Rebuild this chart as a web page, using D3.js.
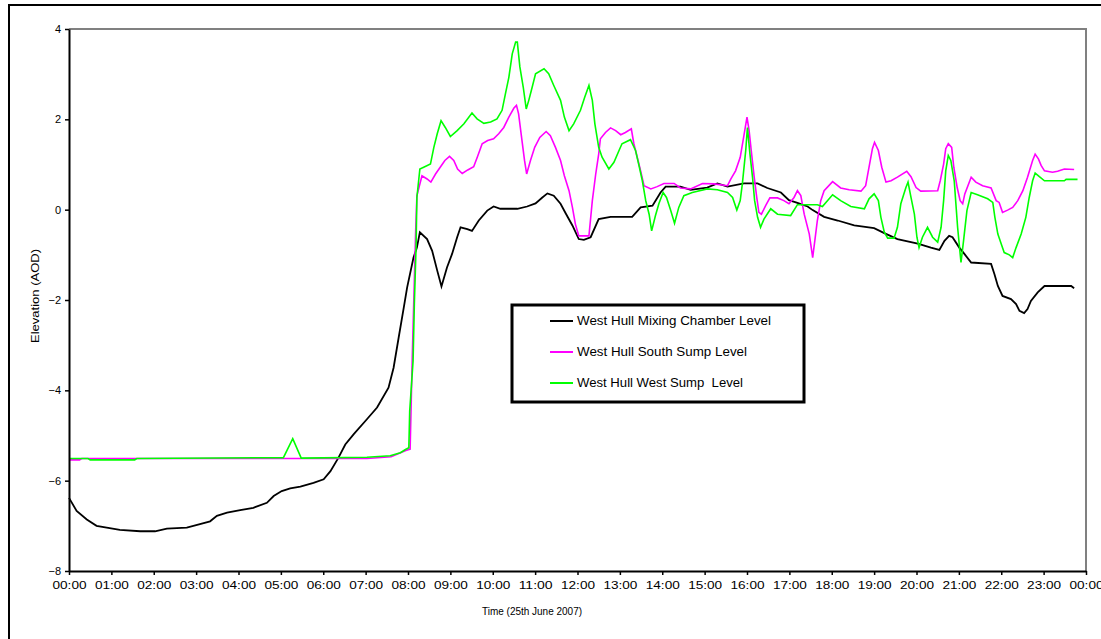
<!DOCTYPE html>
<html>
<head>
<meta charset="utf-8">
<script src="https://cdn.jsdelivr.net/npm/d3@7"></script>
<style>
  body { margin: 0; background: #fff; }
  svg { display: block; font-family: "Liberation Sans", Arial, sans-serif; }
</style>
</head>
<body>
<div id="chart"></div>
<script>
// series names, as in the legend
const seriesNames = ["West Hull Mixing Chamber Level", "West Hull South Sump Level", "West Hull West Sump  Level"];
const seriesColors = ["#000000", "#ff00ff", "#00ff00"];

const yTicks = [-8, -6, -4, -2, 0, 2, 4];
const xTicks = d3.range(0, 25);

// [hour, level]
const mixingChamber = [
  [0.00,-6.38],[0.18,-6.67],[0.42,-6.86],[0.65,-7.00],[0.89,-7.04],[1.20,-7.09],[1.68,-7.12],[2.03,-7.12],
  [2.31,-7.06],[2.78,-7.04],[3.09,-6.96],[3.33,-6.90],[3.49,-6.78],[3.73,-6.71],[4.04,-6.65],[4.35,-6.60],
  [4.67,-6.49],[4.83,-6.34],[5.02,-6.23],[5.22,-6.17],[5.46,-6.13],[5.77,-6.05],[6.01,-5.97],[6.17,-5.79],
  [6.36,-5.49],[6.52,-5.20],[6.72,-4.97],[7.03,-4.64],[7.27,-4.38],[7.54,-3.94],[7.66,-3.50],[7.78,-2.83],
  [7.90,-2.17],[7.98,-1.72],[8.13,-1.06],[8.21,-0.84],[8.28,-0.50],[8.45,-0.65],[8.57,-0.91],[8.69,-1.35],
  [8.79,-1.70],[8.92,-1.28],[9.04,-0.98],[9.16,-0.61],[9.24,-0.39],[9.40,-0.43],[9.51,-0.47],[9.67,-0.24],
  [9.87,-0.02],[10.02,0.07],[10.18,0.02],[10.58,0.02],[10.81,0.07],[11.01,0.14],[11.17,0.27],[11.29,0.36],
  [11.44,0.31],[11.60,0.13],[11.72,-0.08],[11.88,-0.35],[12.03,-0.65],[12.15,-0.67],[12.31,-0.61],[12.50,-0.21],
  [12.78,-0.16],[13.29,-0.16],[13.49,0.05],[13.77,0.09],[13.96,0.38],[14.08,0.51],[14.43,0.51],[14.67,0.44],
  [15.06,0.49],[15.30,0.58],[15.54,0.51],[15.93,0.58],[16.25,0.58],[16.48,0.48],[16.80,0.38],[16.99,0.21],
  [17.19,0.15],[17.43,0.07],[17.55,-0.01],[17.82,-0.16],[18.14,-0.24],[18.53,-0.35],[19.00,-0.41],[19.24,-0.52],
  [19.55,-0.65],[20.03,-0.75],[20.34,-0.84],[20.54,-0.89],[20.66,-0.69],[20.77,-0.58],[20.85,-0.61],[21.01,-0.84],
  [21.13,-0.98],[21.29,-1.17],[21.76,-1.20],[21.84,-1.43],[21.92,-1.69],[22.03,-1.91],[22.23,-1.98],[22.35,-2.09],
  [22.43,-2.24],[22.54,-2.29],[22.62,-2.20],[22.70,-2.02],[22.86,-1.83],[23.02,-1.69],[23.65,-1.69],[23.72,-1.74]
];

const southSump = [
  [0.00,-5.54],[0.25,-5.54],[0.30,-5.51],[7.03,-5.51],[7.60,-5.47],[7.95,-5.33],[8.05,-5.30],[8.10,-3.30],
  [8.18,-0.50],[8.21,0.31],[8.33,0.75],[8.45,0.68],[8.54,0.61],[8.65,0.79],[8.76,0.94],[8.87,1.09],[8.98,1.18],
  [9.08,1.09],[9.17,0.90],[9.28,0.80],[9.41,0.88],[9.55,0.95],[9.65,1.20],[9.75,1.46],[9.88,1.53],[10.02,1.57],
  [10.14,1.68],[10.26,1.82],[10.38,2.05],[10.50,2.25],[10.56,2.31],[10.61,2.12],[10.69,1.53],[10.75,1.09],
  [10.80,0.79],[10.89,1.09],[10.99,1.38],[11.11,1.60],[11.26,1.73],[11.36,1.64],[11.48,1.38],[11.60,1.09],
  [11.69,0.75],[11.80,0.42],[11.88,0.05],[11.95,-0.32],[12.03,-0.58],[12.27,-0.58],[12.35,0.20],[12.43,0.79],
  [12.50,1.23],[12.54,1.57],[12.66,1.71],[12.78,1.81],[12.90,1.75],[13.02,1.66],[13.13,1.71],[13.27,1.79],
  [13.33,1.46],[13.41,1.16],[13.49,0.86],[13.57,0.53],[13.73,0.46],[13.88,0.51],[14.04,0.58],[14.28,0.58],
  [14.43,0.48],[14.67,0.46],[14.95,0.58],[15.22,0.57],[15.54,0.53],[15.62,0.68],[15.73,0.86],[15.84,1.16],
  [15.92,1.60],[16.00,2.05],[16.05,1.75],[16.10,1.31],[16.17,0.72],[16.23,0.27],[16.28,-0.06],[16.34,-0.10],
  [16.44,0.09],[16.54,0.26],[16.72,0.26],[16.87,0.20],[16.99,0.13],[17.11,0.27],[17.19,0.42],[17.27,0.31],
  [17.35,-0.10],[17.47,-0.54],[17.55,-1.06],[17.60,-0.69],[17.66,-0.24],[17.74,0.20],[17.82,0.42],[18.02,0.62],
  [18.21,0.48],[18.41,0.44],[18.69,0.41],[18.80,0.53],[18.88,0.94],[18.96,1.35],[19.01,1.49],[19.10,1.31],
  [19.18,0.94],[19.28,0.61],[19.40,0.64],[19.55,0.72],[19.77,0.85],[19.87,0.73],[19.99,0.49],[20.10,0.41],
  [20.50,0.42],[20.56,0.64],[20.64,1.01],[20.69,1.35],[20.75,1.46],[20.83,1.38],[20.88,0.94],[20.96,0.49],
  [21.03,0.20],[21.09,0.13],[21.14,0.35],[21.29,0.72],[21.40,0.61],[21.56,0.53],[21.76,0.48],[21.88,0.20],
  [21.95,0.16],[22.03,-0.06],[22.15,-0.01],[22.27,0.05],[22.39,0.20],[22.51,0.42],[22.62,0.72],[22.74,1.09],
  [22.80,1.23],[22.88,1.12],[22.94,0.98],[23.02,0.86],[23.21,0.83],[23.33,0.85],[23.49,0.90],[23.72,0.89]
];

const westSump = [
  [0.00,-5.51],[0.45,-5.51],[0.50,-5.54],[1.55,-5.54],[1.60,-5.51],[5.06,-5.49],[5.28,-5.07],[5.48,-5.50],
  [7.03,-5.48],[7.58,-5.45],[7.82,-5.38],[7.94,-5.31],[8.02,-5.27],[8.04,-4.46],[8.12,-3.35],[8.15,-2.09],
  [8.19,-0.84],[8.21,0.27],[8.28,0.90],[8.37,0.94],[8.53,1.01],[8.61,1.38],[8.69,1.68],[8.78,1.97],[8.88,1.82],
  [9.00,1.62],[9.16,1.75],[9.32,1.90],[9.51,2.14],[9.63,2.01],[9.79,1.91],[9.95,1.94],[10.10,2.01],[10.22,2.20],
  [10.30,2.57],[10.38,2.93],[10.46,3.45],[10.54,3.71],[10.58,3.71],[10.64,3.16],[10.72,2.71],[10.79,2.23],
  [10.85,2.42],[10.93,2.71],[11.01,3.01],[11.21,3.12],[11.32,3.01],[11.44,2.75],[11.60,2.42],[11.69,2.05],
  [11.80,1.75],[11.91,1.90],[12.07,2.20],[12.17,2.49],[12.27,2.75],[12.35,2.42],[12.41,1.90],[12.50,1.38],
  [12.58,1.16],[12.74,0.90],[12.86,1.05],[12.98,1.31],[13.05,1.46],[13.25,1.55],[13.37,1.31],[13.45,0.98],
  [13.53,0.64],[13.61,0.20],[13.69,-0.10],[13.75,-0.47],[13.84,-0.13],[13.92,0.13],[14.02,0.38],[14.10,0.27],
  [14.20,-0.02],[14.29,-0.30],[14.39,0.05],[14.51,0.31],[14.71,0.38],[15.06,0.46],[15.30,0.44],[15.54,0.38],
  [15.66,0.27],[15.76,-0.01],[15.84,0.20],[15.89,0.57],[15.97,1.31],[16.01,1.82],[16.07,1.23],[16.13,0.72],
  [16.18,0.20],[16.25,-0.17],[16.32,-0.39],[16.40,-0.21],[16.56,0.02],[16.72,-0.10],[17.03,-0.13],[17.19,0.11],
  [17.66,0.11],[17.78,0.07],[18.02,0.33],[18.21,0.20],[18.45,0.07],[18.77,0.02],[18.88,0.24],[19.00,0.35],
  [19.10,0.20],[19.16,-0.17],[19.24,-0.50],[19.32,-0.63],[19.47,-0.63],[19.55,-0.39],[19.63,0.13],[19.75,0.49],
  [19.80,0.61],[19.87,0.27],[19.95,-0.10],[20.01,-0.61],[20.06,-0.84],[20.14,-0.61],[20.26,-0.39],[20.38,-0.61],
  [20.50,-0.72],[20.58,-0.39],[20.64,0.20],[20.69,0.86],[20.75,1.20],[20.81,1.09],[20.89,0.64],[20.97,-0.39],
  [21.05,-1.17],[21.11,-0.69],[21.19,-0.02],[21.29,0.38],[21.44,0.33],[21.68,0.24],[21.80,0.16],[21.85,-0.17],
  [21.92,-0.54],[22.00,-0.76],[22.07,-0.95],[22.19,-1.00],[22.27,-1.06],[22.35,-0.84],[22.47,-0.54],[22.58,-0.17],
  [22.66,0.27],[22.74,0.64],[22.80,0.81],[22.90,0.73],[23.02,0.64],[23.49,0.64],[23.53,0.67],[23.80,0.67]
];

const allSeries = [mixingChamber, southSump, westSump];

const width = 1101, height = 639;
const plot = { left: 69, right: 1086, top: 29, bottom: 571 };

const svg = d3.select("#chart").append("svg")
  .attr("width", width)
  .attr("height", height);

// outer frame (only top and left edges show in the picture)
svg.append("path")
  .attr("d", "M9,660 L9,5 L1110,5")
  .attr("fill", "none")
  .attr("stroke", "#000")
  .attr("stroke-width", 2);

const x = d3.scaleLinear().domain([0, 24]).range([plot.left, plot.right]);
const y = d3.scaleLinear().domain([-8, 4]).range([plot.bottom, plot.top]);

// gray top/right edges of the plot area
svg.append("path")
  .attr("d", `M${plot.left},${plot.top} L${plot.right},${plot.top} L${plot.right},${plot.bottom}`)
  .attr("fill", "none")
  .attr("stroke", "#808080")
  .attr("stroke-width", 2);

const line = d3.line()
  .x(d => x(d[0]))
  .y(d => y(d[1]));

allSeries.forEach((s, i) => {
  svg.append("path")
    .datum(s)
    .attr("fill", "none")
    .attr("stroke", seriesColors[i])
    .attr("stroke-width", i === 0 ? 1.8 : 1.6)
    .attr("d", line);
});

const yAxis = svg.append("g")
  .attr("transform", `translate(${plot.left},0)`)
  .call(d3.axisLeft(y).tickValues(yTicks).tickSize(4).tickSizeOuter(0));

const xAxis = svg.append("g")
  .attr("transform", `translate(0,${plot.bottom})`)
  .call(d3.axisBottom(x).tickValues(xTicks).tickSize(4).tickSizeOuter(0)
    .tickFormat(d => String(d % 24).padStart(2, "0") + ":00"));

[xAxis, yAxis].forEach(a => {
  a.select(".domain").attr("stroke", "#000").attr("stroke-width", 2);
  a.selectAll(".tick line").attr("stroke", "#000").attr("stroke-width", 1.5);
  a.selectAll(".tick text")
    .attr("fill", "#000")
    .style("font-family", "Liberation Sans, Arial, sans-serif")
    .style("font-size", "11px");
});
yAxis.selectAll(".tick text").attr("x", -8);
xAxis.selectAll(".tick text").attr("y", 10).attr("textLength", 34).attr("lengthAdjust", "spacingAndGlyphs");

svg.append("text")
  .attr("x", 532)
  .attr("y", 615)
  .attr("text-anchor", "middle")
  .attr("textLength", 100)
  .attr("lengthAdjust", "spacingAndGlyphs")
  .style("font-size", "11px")
  .text("Time (25th June 2007)");

svg.append("text")
  .attr("transform", "translate(39,296) rotate(-90)")
  .attr("text-anchor", "middle")
  .attr("textLength", 94)
  .attr("lengthAdjust", "spacingAndGlyphs")
  .style("font-size", "11px")
  .text("Elevation (AOD)");

// legend
const legendWidths = [194, 170, 166];
const legend = svg.append("g");
legend.append("rect")
  .attr("x", 512)
  .attr("y", 305)
  .attr("width", 292)
  .attr("height", 97)
  .attr("fill", "#fff")
  .attr("stroke", "#000")
  .attr("stroke-width", 3);

const items = legend.selectAll(".item")
  .data(seriesNames)
  .enter()
  .append("g")
  .attr("transform", (d, i) => `translate(550,${321 + i * 31})`);

items.append("line")
  .attr("x1", 0).attr("x2", 23)
  .attr("stroke", (d, i) => seriesColors[i])
  .attr("stroke-width", 2);

items.append("text")
  .attr("x", 27)
  .attr("dy", "0.35em")
  .attr("textLength", (d, i) => legendWidths[i])
  .attr("lengthAdjust", "spacingAndGlyphs")
  .style("font-size", "12px")
  .style("white-space", "pre")
  .attr("xml:space", "preserve")
  .text(d => d);
</script>
</body>
</html>
